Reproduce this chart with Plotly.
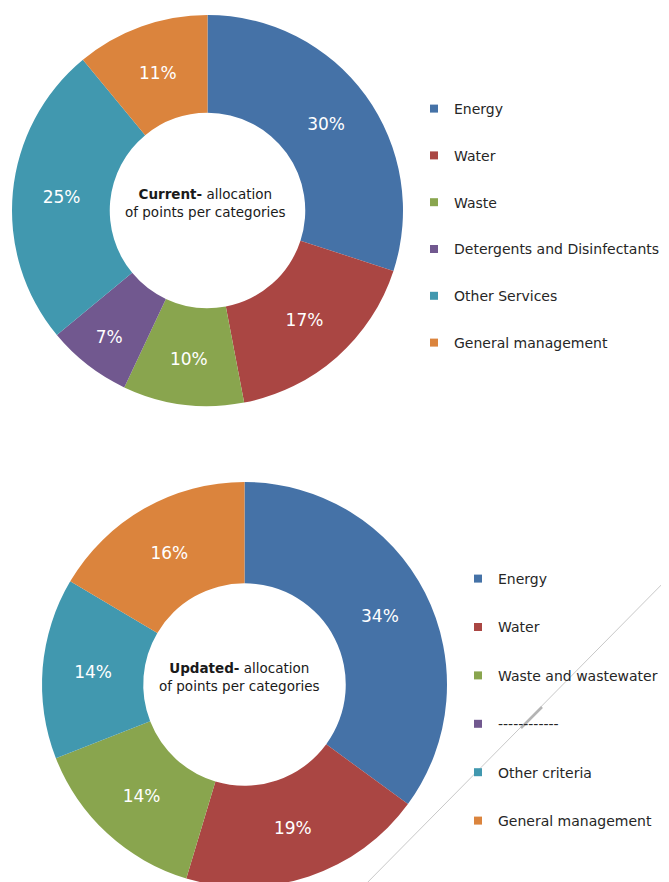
import plotly.graph_objects as go

# ---- data ----
current_labels = ["Energy", "Water", "Waste", "Detergents and Disinfectants",
                  "Other Services", "General management"]
current_values = [30, 17, 10, 7, 25, 11]

updated_labels = ["Energy", "Water", "Waste and wastewater", "------------",
                  "Other criteria", "General management"]
updated_values = [34, 19, 14, 0, 14, 16]

colors = ["#4572A7", "#AA4643", "#89A54E", "#71588F", "#4198AF", "#DB843D"]

W, H = 669, 882
FONT = "DejaVu Sans, Verdana, sans-serif"


def px_x(x):
    return x / W


def px_y(y):
    return 1 - y / H


def pct_text(vals):
    return [f"{v}%" if v else "" for v in vals]


fig = go.Figure()

# top donut
fig.add_trace(go.Pie(
    labels=current_labels, values=current_values,
    text=pct_text(current_values), textinfo="text",
    textposition="inside", insidetextorientation="horizontal",
    textfont=dict(family=FONT, size=17, color="white"),
    marker=dict(colors=colors, line=dict(width=0)),
    hole=0.5, sort=False, direction="clockwise", rotation=0,
    domain=dict(x=[px_x(4), px_x(395)], y=[px_y(398), px_y(7)]),
    showlegend=False, hoverinfo="label+text",
))

# bottom donut
fig.add_trace(go.Pie(
    labels=updated_labels, values=updated_values,
    text=pct_text(updated_values), textinfo="text",
    textposition="inside", insidetextorientation="horizontal",
    textfont=dict(family=FONT, size=17, color="white"),
    marker=dict(colors=colors, line=dict(width=0)),
    hole=0.5, sort=False, direction="clockwise", rotation=0,
    domain=dict(x=[px_x(34), px_x(439)], y=[px_y(879), px_y(474)]),
    showlegend=False, hoverinfo="label+text",
))

# legend entries (one group per category so spacing can be set)
for i, (lab, col) in enumerate(zip(current_labels, colors)):
    fig.add_trace(go.Scatter(
        x=[None], y=[None], mode="markers", name=lab,
        marker=dict(symbol="square", size=8, color=col),
        legend="legend", legendgroup=f"c{i}", showlegend=True,
    ))
for i, (lab, col) in enumerate(zip(updated_labels, colors)):
    fig.add_trace(go.Scatter(
        x=[None], y=[None], mode="markers", name=lab,
        marker=dict(symbol="square", size=8, color=col),
        legend="legend2", legendgroup=f"u{i}", showlegend=True,
    ))

fig.update_layout(
    width=W, height=H,
    margin=dict(l=0, r=0, t=0, b=0),
    paper_bgcolor="white", plot_bgcolor="white",
    font=dict(family=FONT, color="#262626"),
    xaxis=dict(visible=False), yaxis=dict(visible=False),
    legend=dict(
        x=px_x(406), y=px_y(85), xanchor="left", yanchor="top",
        traceorder="grouped", tracegroupgap=25.6,
        font=dict(family=FONT, size=14, color="#262626"),
        bgcolor="rgba(0,0,0,0)", borderwidth=0,
    ),
    legend2=dict(
        x=px_x(450), y=px_y(555), xanchor="left", yanchor="top",
        traceorder="grouped", tracegroupgap=27.2,
        font=dict(family=FONT, size=14, color="#262626"),
        bgcolor="rgba(0,0,0,0)", borderwidth=0,
    ),
    annotations=[
        dict(x=px_x(197.5), y=px_y(195), xref="paper", yref="paper",
             xanchor="center", yanchor="middle",
             text="<b>Current-</b> allocation<br>of points per categories",
             showarrow=False, align="center",
             font=dict(family=FONT, size=13.5, color="#1a1a1a")),
        dict(x=px_x(231.5), y=px_y(668.5), xref="paper", yref="paper",
             xanchor="center", yanchor="middle",
             text="<b>Updated-</b> allocation<br>of points per categories",
             showarrow=False, align="center",
             font=dict(family=FONT, size=13.5, color="#1a1a1a")),
    ],
    shapes=[
        dict(type="line", xref="paper", yref="paper", layer="below",
             x0=px_x(669), y0=px_y(561), x1=px_x(352), y1=px_y(882),
             line=dict(color="#c8c8c8", width=1)),
        dict(type="line", xref="paper", yref="paper", layer="below",
             x0=px_x(534), y0=px_y(699), x1=px_x(513), y1=px_y(720),
             line=dict(color="#b4b4b4", width=2.5)),
    ],
)

fig.write_html("out.html")
